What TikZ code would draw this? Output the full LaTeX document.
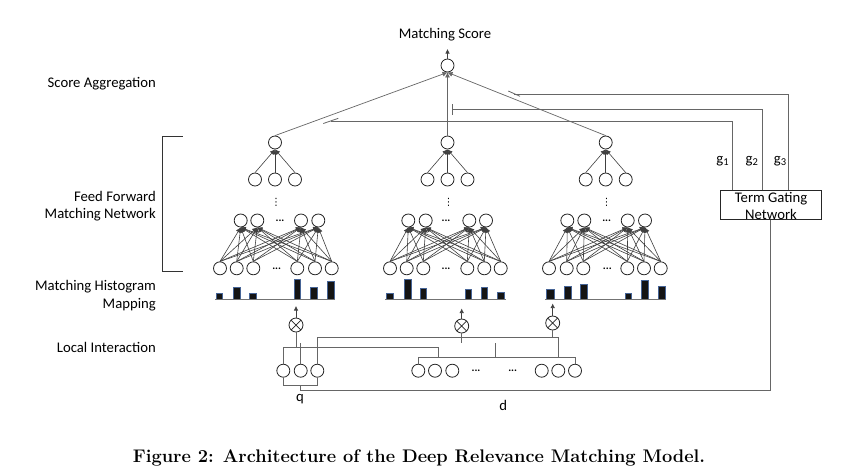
\documentclass[tikz,border=0pt]{standalone}
\usepackage{fontspec}
\newfontfamily\calfont{Carlito}
\newfontfamily\djfont{DejaVu Sans}
\usetikzlibrary{arrows.meta,calc}
\tikzset{
  neuron/.style={circle,draw=black!85,line width=0.8pt,minimum size=13pt,inner sep=0pt},
  mult/.style={circle,draw=black!85,line width=0.8pt,minimum size=14pt,inner sep=0pt,
    path picture={\draw[black!85,line width=0.7pt]
      (path picture bounding box.north west)--(path picture bounding box.south east)
      (path picture bounding box.north east)--(path picture bounding box.south west);}},
  ffn/.style={draw=black!75,line width=0.6pt,-{Latex[length=5pt,width=5pt]}},
  agg/.style={draw=black!60,line width=0.7pt,-{Latex[length=5pt,width=5pt]}},
  small arrow/.style={draw=black!75,line width=0.6pt,-{Latex[length=4.5pt,width=4.5pt]}},
  wire/.style={draw=black!60,line width=0.8pt},
  lbl/.style={font=\calfont\fontsize{14.7}{17.7}\selectfont,inner sep=0pt},
  ell/.style={font=\calfont\bfseries\fontsize{11}{11}\selectfont,inner sep=0pt,anchor=base},
  vd/.style={font=\djfont\fontsize{10}{10}\selectfont,inner sep=0pt},
  histbar/.style={fill=black!92,draw={rgb,255:red,70;green,100;blue,150},line width=0.6pt},
}
\newcommand\drmmtower[9]{%
  \node[neuron] (#1top) at (#2,142.5) {};
  \foreach \k/\dx in {1/-20,2/0,3/20}{\node[neuron] (#1m\k) at ({#2+\dx},179.5) {};}
  \node[vd] (#1vd) at ({#2+1},202) {⋮};
  \foreach \k/\xx in {#3}{\node[neuron] (#1h\k) at (\xx,220.5) {};}
  \node[ell] (#1hd) at (#4,221.5) {...};
  \foreach \k/\xx in {#5}{\node[neuron] (#1b\k) at (\xx,268.3) {};}
  \node[ell] (#1bd) at (#6,269.3) {...};
  \foreach \k in {1,...,6}{\foreach \j in {1,...,4}{\draw[ffn] (#1b\k.north) -- (#1h\j.south);}}
  \foreach \k in {1,2,3}{\draw[ffn] (#1m\k.north) -- (#1top.south);}
  \foreach \l/\r/\t in {#7}{\draw[histbar] (\l,299) rectangle (\r,\t);}
  \draw[black!55,line width=0.6pt] (#8,299.3) -- (#9,299.3);
}
\begin{document}
\begin{tikzpicture}[x=1pt,y=-1pt]
\fill[white] (0,0) rectangle (858,475);
\useasboundingbox (0,0) rectangle (858,475);

% left labels
\node[lbl,anchor=east] (lsa) at (156,84) {Score Aggregation};
\node[lbl,anchor=east,align=right] (lffn) at (156,206.2) {Feed Forward\\Matching Network};
\node[lbl,anchor=east,align=right] (lmhm) at (156,295.5) {Matching Histogram\\Mapping};
\node[lbl,anchor=east] (lli) at (156,347.3) {Local Interaction};
\draw[black!80,line width=0.8pt] (182.7,136.7) -- (162.7,136.7) -- (162.7,271.7) -- (182.7,271.7);

% towers
\drmmtower{A}{275}{1/240.7,2/257.3,3/301,4/318.3}{280}{1/220,2/236.7,3/253.3,4/297.3,5/315,6/331.7}{276.7}%
  {216/222.7/293.3,233.3/240/287.3,249.3/256/293.3,294/300.7/279,310.7/317.3/287.3,327.3/334/281.7}{215}{335}
\drmmtower{B}{447.5}{1/408.3,2/425.7,3/469.3,4/486}{446}{1/390,2/406.7,3/423.3,4/467.3,5/484.3,6/500.7}{446}%
  {386.7/393.3/293.3,404.3/411/279.3,420/426.7/288.3,465/471.7/289.3,481/487.7/287.7,497.7/504.3/292.7}{385}{506}
\drmmtower{C}{605.7}{1/567.3,2/584.3,3/627.7,4/645}{606.7}{1/549,2/566.7,3/583.3,4/627.3,5/644,6/660.7}{607.3}%
  {546.7/554/289.3,564.3/571/286,580.7/587.3/284,625/631.7/293.3,641.7/648.3/280.7,658.3/665/286.7}{545}{666}

% score aggregation
\node[neuron] (score) at (447.5,65.5) {};
\node[lbl] (mstitle) at (445,35) {Matching Score};
\coordinate (scoreout) at (447.5,49);
\draw[small arrow] (score.north) -- (scoreout);
\draw[agg] (Atop.north) -- (score.south);
\draw[agg] (Btop.north) -- (score.south);
\draw[agg] (Ctop.north) -- (score.south);

% term gating network
\node[draw=black!85,line width=0.8pt,minimum width=100.3pt,minimum height=28.6pt,inner sep=0pt] (gate) at (770.8,205) {};
\node[lbl,align=center] (gatetxt) at (771,206) {Term Gating\\Network};
\coordinate (g1end) at (331,121);
\coordinate (g2end) at (452.7,109.3);
\coordinate (g3end) at (514,94);
\draw[wire] (g1end) -| ($(gate.north west)+(12,0)$);
\draw[wire] (g2end) -| ($(gate.north west)+(42,0)$);
\draw[wire] (g3end) -| ($(gate.north west)+(68.6,0)$);
\draw[wire] (323.3,123.5) -- (338.3,118.3);
\draw[wire] (452.7,104) -- (452.7,114.5);
\draw[wire] (508.3,91) -- (520,96.3);
\node[lbl,anchor=base] (g1l) at (722.5,163.3) {g\raisebox{-0.25ex}{\fontsize{10.5}{10.5}\selectfont 1}};
\node[lbl,anchor=base] (g2l) at (751.7,163.3) {g\raisebox{-0.25ex}{\fontsize{10.5}{10.5}\selectfont 2}};
\node[lbl,anchor=base] (g3l) at (780,163.3) {g\raisebox{-0.25ex}{\fontsize{10.5}{10.5}\selectfont 3}};

% local interaction
\node[mult] (m1) at (296,325) {};
\node[mult] (m2) at (461.7,326) {};
\node[mult] (m3) at (552.7,323) {};
\coordinate (m1o) at (296,306);
\coordinate (m2o) at (461.7,308.5);
\coordinate (m3o) at (552.7,303.5);
\draw[small arrow] (m1.north) -- (m1o);
\draw[small arrow] (m2.north) -- (m2o);
\draw[small arrow] (m3.north) -- (m3o);

\foreach \k/\xx in {1/283.3,2/300.7,3/317.3}{\node[neuron] (q\k) at (\xx,370.7) {};}
\foreach \k/\xx in {1/418.3,2/435,3/452.3,4/541.7,5/558.3,6/575}{\node[neuron] (d\k) at (\xx,370.7) {};}
\node[ell] (dd1) at (476,371.7) {...};
\node[ell] (dd2) at (512.7,371.7) {...};
\node[lbl,anchor=base] (qlbl) at (300,401) {q};
\node[lbl,anchor=base] (dlbl) at (503.3,410.7) {d};

\coordinate (busA) at (0,337.3);
\coordinate (busS) at (0,342.7);
\coordinate (busB) at (0,347.3);
\coordinate (busD) at (0,357.3);
\coordinate (busL) at (0,385);
\coordinate (busL2) at (0,390.7);
\draw[wire] (q1.north) |- (438.3,347.3) -- (438.3,357.3);
\draw[wire] (m1.south) -- (m1.south |- busB);
\draw[wire] (q2.north) -- (q2.north |- busS);
\draw[wire] (q3.north) |- (558.3,337.3) -- (558.3,357.3);
\draw[wire] (m3.south) -- (m3.south |- busA);
\draw[wire] (m2.south) -- (m2.south |- busS);
\draw[wire] (d1.north) |- (d6.north |- busD) -- (d6.north);
\draw[wire] (495,343.3) -- (495,357.3);
\draw[wire] (q1.south) |- (q3.south |- busL) -- (q3.south);
\draw[wire] (q2.south |- busL) |- (gate.south |- busL2) -- (gate.south);

% caption
\node[font=\bfseries\fontsize{18.25}{20}\selectfont,inner sep=0pt] (cap) at (419,458) {Figure 2: Architecture of the Deep Relevance Matching Model.};
\end{tikzpicture}
\end{document}
